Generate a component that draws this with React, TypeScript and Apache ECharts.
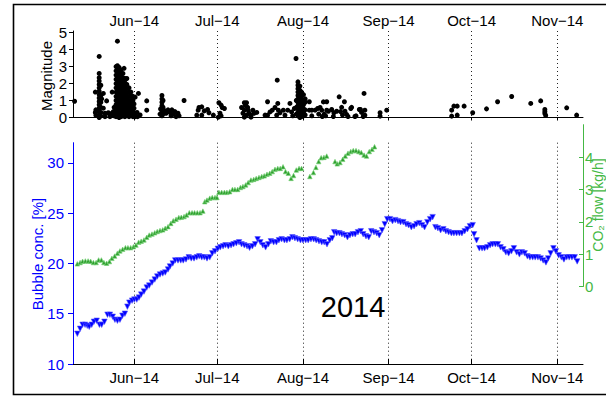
import React, { useEffect, useRef } from 'react';
import * as echarts from 'echarts';

// x values are days counted from 1 May 2014 (Jun 1 = 31, ... Nov 1 = 184)
const monthTicks = [31, 61, 92, 123, 153, 184];
const monthLabels = ['Jun−14', 'Jul−14', 'Aug−14', 'Sep−14', 'Oct−14', 'Nov−14'];
const magnitudeTicks = [0, 1, 2, 3, 4, 5];
const concTicks = [10, 15, 20, 25, 30];
const flowTicks = [0, 1, 2, 3, 4];

const magnitudeEvents: number[][] = [
  [9.4, 0.96],
  [16.9, 1.5], [16.9, 0.3], [17.1, 0.45], [17.1, 0.14],
  [18.3, 3.6], [18.3, 2.6], [18.3, 2.35], [18.3, 2.15], [18.3, 1.95], [18.3, 1.75], [18.3, 1.55], [18.3, 1.35], [18.3, 1.15], [18.3, 0.95], [18.3, 0.75], [18.3, 0.55], [18.3, 0.35], [18.3, 0.15], [18.3, 0.0],
  [18.9, 1.9], [18.9, 1.3], [18.9, 0.9], [18.9, 0.6], [18.9, 0.3], [18.9, 0.1],
  [19.2, 1.1], [19.8, 1.42], [19.8, 0.55], [20.4, 0.25], [20.4, 0.05], [21.0, 0.98], [21.6, 0.28], [22.2, 0.14], [22.2, 0.05], [22.8, 0.24], [23.0, 1.5], [23.4, 0.35], [23.7, 0.6], [23.7, 0.1],
  [24.4, 3.0], [24.4, 2.75], [24.4, 2.5], [24.4, 2.25], [24.4, 2.0], [24.4, 1.75], [24.4, 1.5], [24.4, 1.25], [24.4, 1.0], [24.4, 0.75], [24.4, 0.5], [24.4, 0.25], [24.4, 0.05],
  [24.9, 4.5], [24.9, 3.05], [24.9, 2.8], [24.9, 2.55], [24.9, 2.3], [24.9, 2.05], [24.9, 1.8], [24.9, 1.55], [24.9, 1.3], [24.9, 1.05], [24.9, 0.8], [24.9, 0.55], [24.9, 0.3], [24.9, 0.08],
  [25.5, 2.95], [25.5, 2.7], [25.5, 2.45], [25.5, 2.2], [25.5, 1.95], [25.5, 1.7], [25.5, 1.45], [25.5, 1.2], [25.5, 0.95], [25.5, 0.7], [25.5, 0.45], [25.5, 0.2], [25.5, 0.0],
  [26.2, 2.8], [26.2, 2.55], [26.2, 2.3], [26.2, 2.05], [26.2, 1.8], [26.2, 1.55], [26.2, 1.3], [26.2, 1.05], [26.2, 0.8], [26.2, 0.55], [26.2, 0.3], [26.2, 0.05],
  [27.3, 2.9], [26.9, 2.6], [26.9, 2.35], [26.9, 2.1], [26.9, 1.85], [26.9, 1.6], [26.9, 1.35], [26.9, 1.1], [26.9, 0.85], [26.9, 0.6], [26.9, 0.35], [26.9, 0.1],
  [27.6, 2.3], [27.6, 2.05], [27.6, 1.8], [27.6, 1.55], [27.6, 1.3], [27.6, 1.05], [27.6, 0.8], [27.6, 0.55], [27.6, 0.3], [27.6, 0.05],
  [28.3, 2.3], [28.3, 1.95], [28.3, 1.7], [28.3, 1.45], [28.3, 1.2], [28.3, 0.95], [28.3, 0.7], [28.3, 0.45], [28.3, 0.2],
  [29.1, 1.75], [29.1, 1.5], [29.1, 1.25], [29.1, 1.0], [29.1, 0.75], [29.1, 0.5], [29.1, 0.25], [29.1, 0.05],
  [29.8, 1.5], [29.8, 1.25], [29.8, 1.0], [29.8, 0.75], [29.8, 0.5], [29.8, 0.25],
  [30.5, 1.25], [30.5, 1.0], [30.5, 0.75], [30.5, 0.5], [30.5, 0.25], [30.5, 0.05],
  [30.9, 0.8], [30.9, 0.55], [30.9, 0.3], [30.9, 0.1],
  [31.3, 1.2], [31.3, 0.2], [31.3, 0.05],
  [32.0, 0.3], [32.2, 0.05], [32.5, 1.42], [33.1, 0.15], [35.5, 0.98], [35.5, 0.43],
  [40.3, 0.2], [40.5, 0.5], [41.0, 1.3], [41.0, 1.1], [41.0, 0.9], [41.0, 0.7], [41.0, 0.5], [41.0, 0.3], [41.0, 0.1], [41.4, 1.0], [41.4, 0.6], [41.4, 0.2],
  [42.0, 0.4], [42.5, 0.25], [43.2, 0.45], [43.9, 0.3], [44.3, 0.1], [44.6, 0.45], [45.2, 0.2], [45.7, 0.35], [46.1, 0.05], [46.8, 0.25], [47.2, 0.1],
  [49.0, 1.0],
  [53.6, 0.14], [54.1, 0.43], [54.4, 0.59], [55.4, 0.63], [55.4, 0.14], [56.3, 0.39], [57.5, 0.47], [58.0, 0.28], [59.6, 0.14], [61.4, 0.02], [61.6, 0.87], [62.0, 0.25], [62.4, 0.73], [62.4, 0.1], [62.8, 0.59], [63.6, 0.53],
  [69.8, 0.59], [70.3, 0.25], [70.8, 0.87], [70.8, 0.43], [70.8, 0.02], [71.2, 0.7], [71.6, 0.87], [71.6, 0.14], [72.0, 0.6], [72.2, 0.43], [72.5, 0.25], [73.2, 0.14], [73.2, 0.02], [73.9, 0.43], [74.3, 0.25], [75.3, 0.3],
  [78.3, 0.14], [79.2, 0.93], [79.2, 0.14], [80.1, 0.33], [80.9, 0.43], [81.9, 0.59], [82.5, 0.14], [82.7, 2.2], [82.9, 0.83], [83.1, 0.43], [83.7, 0.28], [84.9, 0.43], [85.5, 0.14], [86.5, 0.43], [87.3, 0.83], [87.9, 0.33], [88.3, 0.1], [88.9, 0.53],
  [89.5, 3.48], [89.6, 1.0], [89.6, 0.6], [89.6, 0.2],
  [90.2, 2.1], [90.2, 1.9], [90.2, 1.7], [90.2, 1.5], [90.2, 1.3], [90.2, 1.1], [90.2, 0.9], [90.2, 0.7], [90.2, 0.5], [90.2, 0.3], [90.2, 0.1],
  [90.9, 1.85], [90.9, 1.6], [90.9, 1.4], [90.9, 1.2], [90.9, 1.0], [90.9, 0.8], [90.9, 0.6], [90.9, 0.4], [90.9, 0.2], [90.9, 0.0],
  [91.5, 1.5], [91.5, 1.25], [91.5, 1.05], [91.5, 0.85], [91.5, 0.65], [91.5, 0.45], [91.5, 0.25], [91.5, 0.05],
  [92.2, 1.35], [92.2, 1.0], [92.2, 0.75], [92.2, 0.5], [92.2, 0.3], [92.2, 0.1],
  [92.8, 1.1], [92.8, 0.9], [92.8, 0.45], [92.8, 0.15],
  [94.3, 0.93], [94.3, 0.43], [95.2, 0.43], [95.2, 0.1], [96.4, 0.43], [97.3, 0.53], [97.7, 0.2], [98.2, 0.59], [98.8, 0.43], [99.0, 0.06], [99.4, 0.92], [99.7, 0.2], [100.2, 0.1], [100.6, 0.93], [100.6, 0.43], [101.2, 0.37],
  [102.4, 0.47], [103.0, 0.06], [103.2, 0.28], [104.2, 0.37], [105.1, 1.22], [105.6, 0.35], [106.0, 0.6], [106.3, 0.15], [107.0, 0.93], [107.2, 0.37], [107.8, 0.18], [108.3, 0.06], [109.3, 0.53], [109.6, 0.6], [110.8, 0.06], [111.2, 0.1], [112.4, 0.47], [112.8, 0.47], [113.2, 0.3], [113.8, 0.06], [114.1, 1.42], [114.4, 0.43], [114.4, 0.14], [119.9, 0.28], [119.9, 0.08], [122.3, 0.43],
  [145.8, 0.43], [145.8, 0.08], [146.6, 0.67], [147.8, 0.67], [147.8, 0.14], [150.3, 0.67], [153.4, 0.28], [158.4, 0.51], [162.4, 0.93], [167.5, 1.24], [174.4, 0.83], [178.0, 0.98], [179.5, 0.47], [179.5, 0.35], [179.5, 0.24], [179.8, 0.12], [187.4, 0.57], [191.0, 0.14],
];

const bubbleConc: number[][] = [
  [10.4, 13.0], [11.4, 13.5], [12.3, 13.9], [13.2, 13.9], [14.0, 13.8], [14.7, 13.7], [15.6, 13.9], [16.4, 14.2], [17.4, 14.3], [18.4, 13.9], [19.2, 13.9], [20.2, 14.2], [21.3, 14.9], [22.2, 14.9], [23.2, 14.7], [24.0, 14.4], [24.9, 14.3], [25.8, 14.4], [26.7, 14.8], [27.6, 15.0],
  [28.5, 15.7], [29.2, 16.1], [30.2, 16.3], [31.0, 16.4], [31.9, 16.4], [32.7, 16.6], [33.5, 16.9], [34.5, 17.2], [35.5, 17.6], [36.4, 17.8], [37.4, 18.1], [38.4, 18.4], [39.3, 18.7], [40.3, 18.9], [41.3, 19.0], [42.2, 19.1], [43.2, 19.4], [43.9, 19.7], [44.9, 20.0], [45.8, 20.3],
  [46.8, 20.3], [47.8, 20.3], [48.7, 20.3], [49.7, 20.4], [50.7, 20.6], [51.6, 20.5], [52.6, 20.5], [53.6, 20.6], [54.5, 20.7],
  [55.4, 20.6], [56.3, 20.6], [57.3, 20.5], [58.3, 20.6], [59.2, 21.0], [60.2, 21.2], [61.2, 21.45], [62.1, 21.6], [63.1, 21.7], [64.0, 21.8], [65.0, 21.7], [66.0, 21.8], [66.9, 21.9], [67.9, 22.0], [68.9, 22.1], [69.8, 21.9], [70.8, 21.8], [71.8, 21.7], [72.7, 21.55], [73.7, 21.7],
  [74.7, 21.9], [75.6, 22.4], [76.6, 22.1], [77.5, 21.8], [78.5, 21.6], [79.5, 21.9], [80.4, 22.2], [81.4, 22.1], [82.4, 22.1], [83.3, 22.3], [84.3, 22.4], [85.3, 22.3], [86.2, 22.3], [87.2, 22.4], [88.2, 22.6], [89.1, 22.5], [90.1, 22.4], [91.1, 22.3], [92.0, 22.3], [93.0, 22.3],
  [93.9, 22.3], [94.9, 22.4], [95.9, 22.4], [96.8, 22.3], [97.8, 22.2], [98.8, 22.1], [99.7, 22.1], [100.7, 21.9], [101.7, 22.3], [102.6, 22.5], [103.3, 23.1],
  [104.2, 23.0], [105.2, 23.0], [106.1, 22.9], [107.1, 22.8], [108.1, 22.6], [109.0, 22.8], [110.0, 22.9], [110.9, 22.9], [111.9, 23.1], [112.9, 23.2], [113.8, 22.9], [114.8, 22.7], [115.8, 22.6], [116.7, 23.2], [117.7, 23.1], [118.7, 23.0], [119.6, 22.8], [120.6, 23.3], [121.6, 23.9], [122.5, 24.4],
  [123.5, 24.4], [124.4, 24.2], [125.4, 24.3], [126.4, 24.2], [127.3, 24.1], [128.3, 24.1], [129.3, 23.9], [130.2, 23.8], [131.2, 23.6], [132.2, 23.7], [133.1, 23.9], [134.1, 24.0], [135.1, 23.8], [136.0, 23.6], [137.0, 24.1], [138.0, 24.4], [138.9, 24.6], [139.9, 23.6], [140.8, 23.5], [141.8, 23.3],
  [142.8, 23.4], [143.7, 23.2], [144.7, 23.1], [145.7, 23.0], [146.6, 23.0], [147.6, 23.0], [148.6, 23.0], [149.5, 23.0], [150.5, 23.2], [151.5, 23.4], [152.4, 23.7], [153.4, 23.8], [153.9, 22.9], [154.8, 22.3], [155.8, 21.5], [156.8, 21.5], [157.7, 21.5], [158.7, 21.6], [159.7, 21.8], [160.6, 21.9],
  [161.6, 21.9], [162.5, 21.9], [163.5, 21.6], [164.5, 21.4], [165.4, 21.1], [166.4, 21.0], [167.4, 21.2], [168.3, 21.5], [169.3, 21.1], [170.3, 20.9], [171.2, 21.1], [172.2, 21.0], [173.2, 20.7], [174.1, 20.6], [175.1, 20.6], [176.0, 20.6], [177.0, 20.6], [178.0, 20.5], [178.9, 20.3], [179.9, 20.1],
  [180.7, 20.5], [181.6, 21.0], [182.6, 21.5], [183.5, 21.2], [184.5, 20.8], [185.5, 20.6], [186.4, 20.4], [187.4, 20.6], [188.3, 20.6], [189.3, 20.6], [190.3, 20.6], [191.2, 20.2],
];

const co2Flow: number[][] = [
  [10.4, 0.70], [11.4, 0.74], [12.3, 0.78], [13.3, 0.79], [14.3, 0.79], [15.2, 0.78], [16.2, 0.74], [17.2, 0.74], [18.1, 0.82], [19.1, 0.82], [20.0, 0.74], [21.0, 0.72], [22.0, 0.77], [22.9, 0.87], [23.9, 0.94], [24.9, 1.03], [25.8, 1.10], [26.8, 1.15], [27.8, 1.20], [28.7, 1.20],
  [29.7, 1.20], [30.7, 1.23], [31.6, 1.28], [32.6, 1.37], [33.5, 1.40], [34.5, 1.44], [35.5, 1.52], [36.4, 1.59], [37.4, 1.62], [38.4, 1.66], [39.3, 1.70], [40.3, 1.73], [41.3, 1.75], [42.2, 1.80], [43.2, 1.85], [44.2, 1.95], [45.1, 2.03], [46.1, 2.08], [47.1, 2.13], [48.0, 2.14],
  [49.0, 2.16], [49.9, 2.21], [50.9, 2.28], [51.9, 2.28], [52.8, 2.28], [53.8, 2.28], [54.8, 2.28], [55.8, 2.33],
  [56.5, 2.62], [57.3, 2.67], [58.3, 2.73], [59.2, 2.75], [60.2, 2.75], [60.9, 2.75], [61.6, 2.91], [62.6, 2.91], [63.6, 2.91], [64.5, 2.91], [65.5, 2.93], [66.5, 3.00], [67.4, 3.00], [68.4, 3.00], [69.4, 3.06], [70.3, 3.09], [71.3, 3.14], [72.2, 3.21], [73.2, 3.29], [74.2, 3.31],
  [75.1, 3.34], [76.1, 3.37], [77.1, 3.40], [78.0, 3.42], [79.0, 3.47], [80.0, 3.50], [80.9, 3.55], [81.9, 3.62], [82.9, 3.65], [83.8, 3.65], [84.8, 3.70], [85.7, 3.55], [86.7, 3.50], [87.7, 3.34], [88.6, 3.43], [89.6, 3.60], [90.6, 3.65], [91.5, 3.65],
  [94.5, 3.40], [95.8, 3.52], [96.7, 3.68], [97.7, 3.86], [98.6, 3.98], [99.6, 3.99], [100.6, 4.03],
  [103.6, 3.86], [104.4, 3.79], [105.4, 3.83], [106.4, 3.93], [107.3, 4.03], [108.3, 4.12], [109.3, 4.17], [110.2, 4.20], [111.2, 4.20], [112.2, 4.17], [113.1, 4.14], [114.1, 4.06], [115.0, 4.03], [116.0, 4.17], [117.0, 4.24], [117.9, 4.32],
];

const FONT = '"Liberation Sans", Arial, Helvetica, sans-serif';
const BLUE = '#0000ff';
const GREEN_AXIS = '#44b844';
const GREEN_MARK = '#2f9f2f';
const X_MIN = 8.83;
const X_MAX = 193.3;

const monthFormatter = (v: number) => {
  const i = monthTicks.indexOf(Math.round(v));
  return i >= 0 ? monthLabels[i] : '';
};

const splitDotted = { show: true, lineStyle: { type: [1, 3], color: '#222', width: 1 } };

function buildOption(): any {
  const labelBase = { fontSize: 15, fontFamily: FONT };
  return {
    animation: false,
    backgroundColor: '#fff',
    grid: [
      { left: 73, width: 510, top: 31, height: 86.5 },
      { left: 73, width: 510, top: 142.7, height: 221.3 },
      { left: 73, width: 510, top: 124.7, height: 161.8 },
    ],
    xAxis: [
      {
        gridIndex: 0, type: 'value', position: 'top', min: X_MIN, max: X_MAX,
        axisLine: { show: true, lineStyle: { color: '#000', width: 1 } },
        axisTick: { show: true, inside: true, length: 3, customValues: monthTicks, lineStyle: { color: '#000' } },
        axisLabel: { ...labelBase, color: '#000', margin: 3, customValues: monthTicks, formatter: monthFormatter },
        splitLine: splitDotted,
      },
      {
        gridIndex: 1, type: 'value', position: 'bottom', min: X_MIN, max: X_MAX,
        axisLine: { show: true, onZero: false, lineStyle: { color: '#000', width: 1 } },
        axisTick: { show: true, inside: true, length: 5, customValues: monthTicks, lineStyle: { color: '#000' } },
        axisLabel: { ...labelBase, color: '#000', margin: 6, customValues: monthTicks, formatter: monthFormatter },
        splitLine: splitDotted,
      },
      {
        gridIndex: 2, type: 'value', min: X_MIN, max: X_MAX, show: false,
        splitLine: { show: false },
      },
    ],
    yAxis: [
      {
        gridIndex: 0, type: 'value', min: 0, max: 5.1,
        axisLine: { show: true, lineStyle: { color: '#000', width: 1 } },
        axisTick: { show: true, length: 4, customValues: magnitudeTicks, lineStyle: { color: '#000' } },
        axisLabel: { ...labelBase, color: '#000', margin: 6, customValues: magnitudeTicks },
        splitLine: { show: false },
      },
      {
        gridIndex: 1, type: 'value', min: 10, max: 32,
        axisLine: { show: true, lineStyle: { color: BLUE, width: 1 } },
        axisTick: { show: true, length: 5, customValues: concTicks, lineStyle: { color: BLUE } },
        axisLabel: { ...labelBase, color: BLUE, margin: 9, customValues: concTicks },
        splitLine: { show: false },
      },
      {
        gridIndex: 2, type: 'value', position: 'right', min: 0, max: 5,
        axisLine: { show: true, lineStyle: { color: GREEN_AXIS, width: 1 } },
        axisTick: { show: true, inside: true, length: 4, customValues: flowTicks, lineStyle: { color: GREEN_AXIS } },
        axisLabel: { ...labelBase, color: GREEN_AXIS, margin: 2, customValues: flowTicks },
        splitLine: { show: false },
      },
    ],
    series: [
      {
        type: 'scatter', name: 'Magnitude', xAxisIndex: 0, yAxisIndex: 0,
        data: magnitudeEvents, symbol: 'circle', symbolSize: 5,
        itemStyle: { color: '#000', opacity: 1 }, clip: false,
      },
      {
        type: 'scatter', name: 'Bubble conc.', xAxisIndex: 1, yAxisIndex: 1,
        data: bubbleConc, symbol: 'triangle', symbolRotate: 180, symbolSize: 5.5,
        itemStyle: { color: BLUE, borderColor: 'rgba(90,90,255,0.7)', borderWidth: 0.8, opacity: 1 },
      },
      {
        type: 'scatter', name: 'CO2 flow', xAxisIndex: 2, yAxisIndex: 2,
        data: co2Flow, symbol: 'triangle', symbolSize: 4.5,
        itemStyle: { color: GREEN_MARK, borderColor: 'rgba(120,210,120,0.8)', borderWidth: 0.8, opacity: 1 },
      },
    ],
    graphic: [
      {
        type: 'rect', silent: true, z: 100,
        shape: { x: 13.5, y: 4.5, width: 600, height: 390 },
        style: { fill: 'none', stroke: '#000', lineWidth: 1.6 },
      },
      {
        type: 'text', x: 46, y: 76, rotation: Math.PI / 2,
        style: { text: 'Magnitude', font: `15px ${FONT}`, fill: '#000', align: 'center', verticalAlign: 'middle', textAlign: 'center', textVerticalAlign: 'middle' },
      },
      {
        type: 'text', x: 37, y: 254, rotation: Math.PI / 2,
        style: { text: 'Bubble conc. [%]', font: `15px ${FONT}`, fill: BLUE, align: 'center', verticalAlign: 'middle', textAlign: 'center', textVerticalAlign: 'middle' },
      },
      {
        type: 'text', x: 598, y: 205, rotation: Math.PI / 2,
        style: { text: 'CO₂ flow [kg/h]', font: `14px ${FONT}`, fill: GREEN_AXIS, align: 'center', verticalAlign: 'middle', textAlign: 'center', textVerticalAlign: 'middle' },
      },
      {
        type: 'text', x: 353, y: 307,
        style: { text: '2014', font: `29px ${FONT}`, fill: '#000', align: 'center', verticalAlign: 'middle', textAlign: 'center', textVerticalAlign: 'middle' },
      },
    ],
  };
}

export default function App() {
  const ref = useRef<HTMLDivElement>(null);
  useEffect(() => {
    if (!ref.current) return;
    const chart = echarts.init(ref.current, null, { renderer: 'svg' });
    chart.setOption(buildOption());
    return () => chart.dispose();
  }, []);
  return (
    <div
      ref={ref}
      style={{ position: 'fixed', left: 0, top: 0, width: 606, height: 396, background: '#fff' }}
    />
  );
}
